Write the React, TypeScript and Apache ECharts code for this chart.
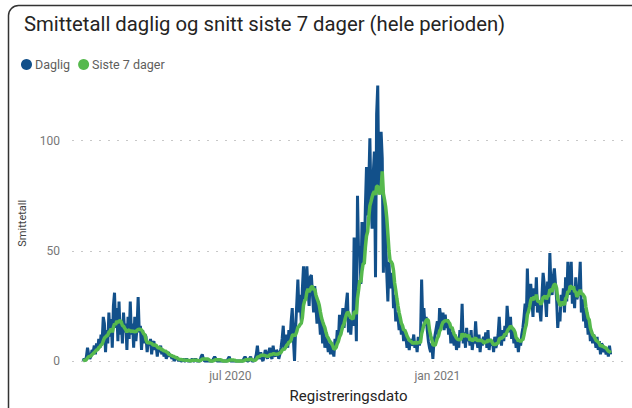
import React, { useEffect, useRef } from "react";
import * as echarts from "echarts";

const startDate = "2020-02-21";
const tickDates = ["2020-07-01", "2021-01-01"];
const tickLabels = ["jul 2020", "jan 2021"];
const seriesNames = ["Daglig", "Siste 7 dager"];

const daily = [
  0, 1, 0, 2, 6, 3, 1,
  2, 5, 4, 7, 3, 8, 5,
  10, 6, 12, 9, 20, 17, 4,
  14, 8, 22, 11, 19, 6, 25,
  31, 15, 24, 9, 27, 12, 18,
  8, 22, 13, 17, 5, 20, 10,
  27, 12, 17, 6, 20, 9, 15,
  29, 13, 16, 5, 14, 8, 12,
  11, 4, 9, 7, 10, 3, 8,
  9, 5, 7, 2, 6, 4, 7,
  3, 5, 2, 4, 1, 3, 4,
  2, 3, 1, 2, 0, 1, 2,
  1, 0, 1, 0, 0, 1, 0,
  0, 1, 0, 0, 0, 0, 1,
  0, 0, 1, 0, 0, 0, 0,
  2, 3, 1, 0, 0, 0, 0,
  0, 0, 0, 0, 1, 2, 1,
  0, 0, 0, 0, 0, 0, 0,
  0, 0, 0, 1, 2, 0, 0,
  0, 0, 0, 0, 0, 0, 0,
  0, 0, 0, 1, 2, 1, 0,
  0, 1, 2, 0, 0, 0, 1,
  3, 7, 2, 1, 4, 1, 0,
  2, 5, 3, 1, 4, 6, 2,
  1, 7, 3, 2, 5, 4, 1,
  3, 6, 10, 16, 5, 8, 12,
  6, 14, 9, 18, 24, 10, 0,
  15, 26, 37, 22, 30, 18, 33,
  43, 28, 35, 43, 32, 25, 38,
  39, 30, 22, 34, 25, 17, 27,
  20, 12, 18, 8, 15, 6, 11,
  9, 4, 8, 3, 7, 5, 2,
  10, 6, 14, 9, 21, 12, 17,
  24, 15, 20, 26, 31, 13, 19,
  12, 20, 16, 56, 30, 9, 75,
  48, 52, 35, 63, 58, 44, 70,
  88, 66, 80, 101, 72, 60, 85,
  95, 38, 112, 125, 78, 92, 104,
  92, 40, 70, 55, 40, 27, 45,
  33, 38, 40, 24, 30, 18, 22,
  20, 14, 18, 12, 16, 9, 13,
  11, 6, 9, 5, 10, 7, 8,
  12, 6, 9, 4, 11, 7, 10,
  37, 18, 24, 16, 20, 14, 9,
  6, 4, 8, 1, 9, 12, 15,
  18, 11, 24, 20, 16, 22, 14,
  21, 15, 19, 12, 16, 8, 13,
  10, 7, 12, 5, 9, 6, 14,
  11, 26, 8, 13, 6, 15, 9,
  12, 7, 14, 5, 10, 8, 18,
  9, 6, 12, 4, 10, 7, 11,
  8, 13, 6, 14, 5, 10, 7,
  9, 4, 11, 6, 8, 12, 20,
  10, 7, 14, 9, 16, 11, 25,
  18, 13, 20, 10, 15, 8, 12,
  6, 10, 4, 9, 7, 12, 15,
  20, 26, 17, 42, 24, 30, 35,
  28, 20, 33, 25, 38, 22, 27,
  24, 18, 30, 40, 35, 28, 20,
  36, 26, 49, 33, 30, 38, 42,
  35, 28, 15, 22, 18, 30, 25,
  33, 22, 38, 27, 45, 30, 35,
  45, 26, 32, 24, 38, 28, 30,
  34, 45, 22, 28, 18, 24, 15,
  20, 12, 17, 9, 14, 8, 12,
  10, 6, 11, 5, 9, 3, 8,
  7, 4, 6, 3, 5, 2, 7,
  3,
];

const avg7 = [
  0, 0.3, 0.3, 0.6, 1.4, 1.9, 2,
  2.3, 2.9, 3.3, 3.9, 4.4, 5, 5.1,
  6.1, 6.4, 7.3, 7.6, 9.1, 10.4, 10.9,
  11.4, 11.7, 13.1, 13.4, 14.7, 13, 15.3,
  16.9, 16.4, 18.1, 17.4, 18.1, 18.3, 17.7,
  16.1, 15.8, 14.9, 14.1, 13.1, 14.1, 13.9,
  13.6, 13.3, 13.9, 13.1, 13.6, 13.1, 14,
  14.3, 14.4, 14.3, 14.1, 13.3, 12.3, 11.9,
  9.6, 8.4, 8.3, 8.4, 8.1, 8, 7.4,
  7.1, 7.3, 7.1, 6.4, 5.9, 6, 5.7,
  5.1, 5.1, 4.4, 4.7, 4.1, 3.9, 3.1,
  2.9, 2.6, 2.4, 2.1, 2, 1.6, 1.6,
  1.3, 0.9, 0.7, 0.7, 0.6, 0.4, 0.4,
  0.3, 0.3, 0.3, 0.3, 0.1, 0.1, 0.3,
  0.3, 0.3, 0.4, 0.3, 0.3, 0.1, 0.1,
  0.4, 0.9, 0.9, 0.9, 0.9, 0.9, 0.9,
  0.6, 0.1, 0, 0, 0.1, 0.4, 0.6,
  0.6, 0.6, 0.6, 0.6, 0.4, 0.1, 0,
  0, 0, 0, 0.1, 0.4, 0.4, 0.4,
  0.4, 0.4, 0.3, 0, 0, 0, 0,
  0, 0, 0, 0.1, 0.4, 0.6, 0.6,
  0.6, 0.7, 0.9, 0.6, 0.4, 0.3, 0.3,
  0.7, 1.7, 1.9, 2, 2.6, 2.6, 2.6,
  2.6, 2.4, 2.3, 2.1, 2.1, 2.9, 3,
  3, 3.3, 3.3, 3, 3.1, 3, 3.4,
  3.6, 3.9, 4.9, 5.3, 5.3, 6.1, 7.1,
  7.6, 8.6, 8.6, 9.6, 11.6, 12, 11.4,
  12, 13.3, 15.3, 15.7, 16.6, 17.1, 19.7,
  25.3, 27.3, 28.1, 31.3, 32.7, 31.3, 32.3,
  33.6, 33.9, 32.4, 32.6, 30.1, 28.4, 27.1,
  25.3, 22.3, 19.6, 17.9, 16.4, 15.1, 12.9,
  11.3, 10.4, 9.3, 8.6, 7.9, 6.9, 5.4,
  5.6, 6.1, 7.9, 8.9, 10.9, 11.9, 13.9,
  15.9, 16.9, 19.1, 20.9, 22.1, 21.9, 20.6,
  19.6, 19.4, 18.9, 22.1, 22.3, 21.3, 28.6,
  32.3, 36.7, 35.7, 40.9, 44.1, 44.3, 51.6,
  56.7, 58.6, 65, 70.4, 72.3, 74.4, 76.1,
  77, 75.3, 79.3, 79.3, 76.9, 75.6, 77.9,
  86, 76.1, 73.3, 70.1, 65, 57.7, 50,
  45.3, 45, 44, 41, 35.4, 32.1, 28.3,
  24.9, 22, 19.7, 17.1, 16.1, 14, 14.1,
  12.9, 11.4, 10.4, 9.4, 9.1, 8.7, 8,
  8.3, 8.1, 8.6, 8.1, 8.4, 8.4, 8.4,
  12.3, 14.3, 16.4, 17.1, 18.4, 18.9, 18.3,
  14.1, 11.6, 9.9, 7.3, 7.3, 7.1, 8.7,
  10.4, 11.3, 13.6, 14.4, 16.4, 17.6, 17.9,
  18.4, 18.1, 18.5, 17.7, 17, 15.1, 15.3,
  13.6, 12.1, 11.3, 10.4, 9.9, 9.6, 9.7,
  9.9, 12.6, 10.9, 12.1, 11.7, 11.3, 11.4,
  11.6, 9.3, 10.4, 9, 9.6, 9.9, 10.6,
  9.4, 9.3, 9.4, 9.3, 9.3, 9.1, 8.4,
  8.1, 9.1, 8.4, 9.7, 9, 9.4, 9.3,
  8.1, 7.4, 7.6, 7.4, 8, 8.1, 10,
  10.4, 10.3, 10.7, 11.1, 12.3, 12.1, 13.3,
  14.4, 14.9, 15.9, 15.4, 14.7, 14.2, 13.1,
  10.6, 10.1, 9, 9.6, 8.6, 9.6, 9.6,
  11.9, 14.6, 16.4, 21, 22.4, 24.6, 27.6,
  28.7, 27.6, 29.3, 28.1, 30.1, 27.3, 26.9,
  27, 25.6, 26.9, 29, 28.9, 29.6, 28,
  29.4, 29.6, 32.4, 32.1, 31.4, 33.7, 34.9,
  34.7, 33, 28, 27, 25.3, 25.4, 26.9,
  26.1, 25.4, 28.3, 29, 31.6, 31.3, 34,
  33.7, 32.6, 33.9, 31.3, 31.6, 29.1, 30,
  30.7, 32.3, 30.4, 30.6, 29.7, 28.9, 24.6,
  21.9, 19.6, 18.7, 15.1, 13.4, 11.9, 11.4,
  10.4, 9.4, 9, 8.6, 7.9, 6.6, 7.1,
  6.6, 6.4, 6.1, 5.9, 5.1, 4.4, 4.3,
  3.6,
];

const DAY = 86400000;
const dayOf = (iso: string) =>
  Math.round((Date.parse(iso) - Date.parse(startDate)) / DAY);
const tickDays = tickDates.map(dayOf);

const FONT = "Roboto, 'Noto Sans', sans-serif";

export default function App() {
  const ref = useRef<HTMLDivElement>(null);
  useEffect(() => {
    if (!ref.current) return;
    const chart = echarts.init(ref.current, undefined, { renderer: "svg" });
    chart.setOption({
      animation: false,
      backgroundColor: "#ffffff",
      textStyle: { fontFamily: FONT },
      title: {
        text: "Smittetall daglig og snitt siste 7 dager (hele perioden)",
        left: 19,
        top: 9,
        textStyle: {
          fontFamily: FONT,
          fontSize: 20.3,
          fontWeight: "normal",
          color: "#252423",
        },
      },
      legend: {
        left: 16,
        top: 53,
        icon: "circle",
        itemWidth: 11,
        itemHeight: 11,
        itemGap: 8,
        data: seriesNames,
        textStyle: {
          fontFamily: FONT,
          fontSize: 12.5,
          color: "#605E5C",
          padding: [0, 0, 0, -2],
        },
      },
      grid: { left: 72, right: 7, top: 85.5, bottom: 45 },
      xAxis: {
        type: "value",
        min: -9.8,
        max: 481.8,
        axisLine: { show: false },
        axisTick: { show: false },
        splitLine: { show: false },
        axisLabel: {
          customValues: tickDays,
          formatter: (v: number) => {
            const i = tickDays.indexOf(Math.round(v));
            return i >= 0 ? tickLabels[i] : "";
          },
          color: "#777777",
          fontSize: 12,
          margin: 9,
          fontFamily: FONT,
        },
        name: "Registreringsdato",
        nameLocation: "middle",
        nameGap: 27,
        nameTextStyle: { fontSize: 15, color: "#252423", fontFamily: FONT },
      },
      yAxis: {
        type: "value",
        min: 0,
        max: 125,
        interval: 50,
        axisLine: { show: false },
        axisTick: { show: false },
        axisLabel: {
          showMaxLabel: false,
          color: "#777777",
          fontSize: 12,
          margin: 12,
          fontFamily: FONT,
        },
        splitLine: {
          show: true,
          showMaxLine: false,
          lineStyle: { type: [2, 7], color: "#c8c8c8", width: 1 },
        },
        name: "Smittetall",
        nameLocation: "middle",
        nameGap: 44,
        nameTextStyle: { fontSize: 11, color: "#444444", fontFamily: FONT },
      },
      graphic: [
        {
          type: "rect",
          silent: true,
          z: 100,
          shape: { x: 8.5, y: 5.5, width: 800, height: 600, r: 10 },
          style: { fill: "none", stroke: "#333333", lineWidth: 1.5 },
        },
      ],
      series: [
        {
          name: seriesNames[0],
          type: "line",
          data: daily.map((v, i) => [i, v]),
          symbol: "none",
          clip: false,
          lineStyle: { width: 3, color: "#12508A" },
          itemStyle: { color: "#12508A" },
          z: 2,
        },
        {
          name: seriesNames[1],
          type: "line",
          data: avg7.map((v, i) => [i, v]),
          symbol: "none",
          clip: false,
          lineStyle: { width: 3.5, color: "#56B94D" },
          itemStyle: { color: "#56B94D" },
          z: 3,
        },
      ],
    });
    return () => chart.dispose();
  }, []);
  return (
    <div
      ref={ref}
      style={{
        position: "fixed",
        left: 0,
        top: 0,
        width: 632,
        height: 408,
        background: "#fff",
      }}
    />
  );
}
